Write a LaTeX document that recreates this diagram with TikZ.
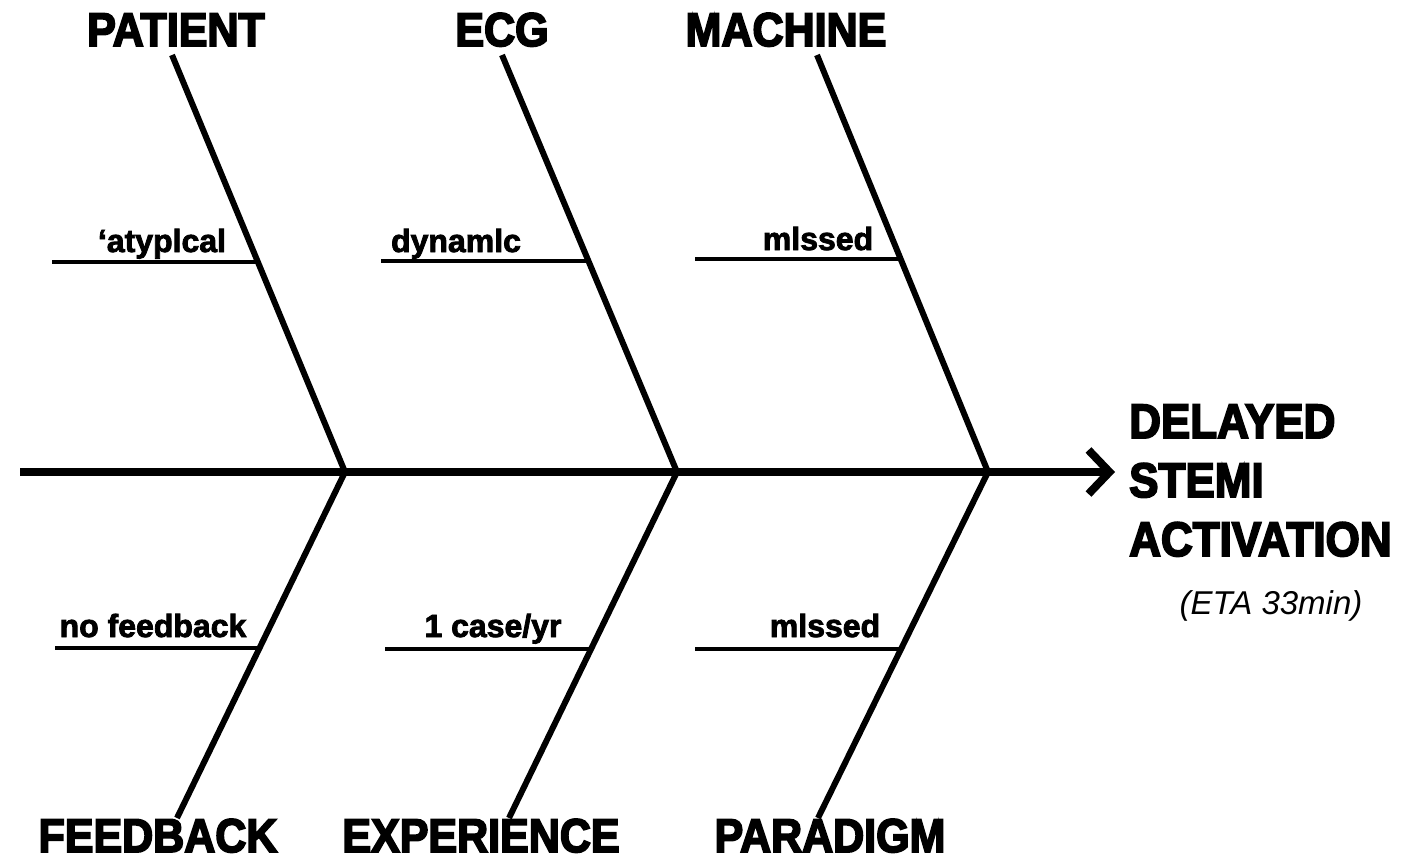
\documentclass[tikz,border=0pt]{standalone}
\usepackage{fontspec}
\setmainfont{Liberation Sans}
\newfontfamily\heavyfont{Liberation Sans}[BoldFeatures={FakeBold=4}]
\newfontfamily\ribfont{Liberation Sans}[BoldFeatures={FakeBold=2.5}]
\usetikzlibrary{arrows.meta}
\newcommand{\tallcap}[1]{\scalebox{1}[1.1]{#1}}
\tikzset{
  spine/.style={line width=8.5pt, -{Straight Barb[length=21pt,width=44pt,line width=8pt]}},
  bone/.style={line width=6pt, line cap=butt},
  rib/.style={line width=3.8pt},
  cat/.style={font=\heavyfont\bfseries\fontsize{43}{46}\selectfont, inner sep=0pt, anchor=base},
  cause/.style={font=\ribfont\bfseries\fontsize{32}{34}\selectfont, inner sep=0pt, anchor=base},
  effect/.style={font=\heavyfont\bfseries\fontsize{44}{59}\selectfont, inner sep=0pt, anchor=base west},
  eta/.style={font=\itshape\fontsize{33}{36}\selectfont, inner sep=0pt, anchor=base}
}
\begin{document}
\begin{tikzpicture}[x=1pt,y=-1pt]
\useasboundingbox (0,0) rectangle (1422,862);
% spine
\coordinate (tail) at (20,472);
\coordinate (head) at (1115,472);
\coordinate (j1) at (345,472);
\coordinate (j2) at (677,472);
\coordinate (j3) at (988,472);
% bone ends
\coordinate (t1) at (172,55);
\coordinate (t2) at (502,55);
\coordinate (t3) at (817,55);
\coordinate (b1) at (177,818);
\coordinate (b2) at (509,818);
\coordinate (b3) at (818,818);
\draw[spine] (tail) -- (head);
\draw[bone] (t1) -- (j1);
\draw[bone] (t2) -- (j2);
\draw[bone] (t3) -- (j3);
\draw[bone] (j1) -- (b1);
\draw[bone] (j2) -- (b2);
\draw[bone] (j3) -- (b3);
% ribs
\coordinate (r1s) at (52,262);  \coordinate (r1e) at (258,262);
\coordinate (r2s) at (381,261); \coordinate (r2e) at (589,261);
\coordinate (r3s) at (695,259); \coordinate (r3e) at (901,259);
\coordinate (r4s) at (55,648);  \coordinate (r4e) at (260,648);
\coordinate (r5s) at (385,649); \coordinate (r5e) at (591,649);
\coordinate (r6s) at (695,649); \coordinate (r6e) at (901,649);
\draw[rib] (r1s) -- (r1e);
\draw[rib] (r2s) -- (r2e);
\draw[rib] (r3s) -- (r3e);
\draw[rib] (r4s) -- (r4e);
\draw[rib] (r5s) -- (r5e);
\draw[rib] (r6s) -- (r6e);
% category labels
\node[cat] (patient) at (176,46) {\tallcap{PATIENT}};
\node[cat] (ecg) at (502,46) {\tallcap{ECG}};
\node[cat] (machine) at (786,46) {\tallcap{MACHINE}};
\node[cat] (feedback) at (158,852) {\tallcap{FEEDBACK}};
\node[cat] (experience) at (481,852) {\tallcap{EXPERIENCE}};
\node[cat] (paradigm) at (830,852) {\tallcap{PARADIGM}};
% cause labels
\node[cause] (c1) at (162,252) {‘atyplcal};
\node[cause] (c2) at (456,252) {dynamlc};
\node[cause] (c3) at (818,250) {mlssed};
\node[cause] (c4) at (153,637) {no feedback};
\node[cause] (c5) at (493,637) {1 case/yr};
\node[cause] (c6) at (825,637) {mlssed};
% effect
\node[effect] (effect1) at (1129,438) {\tallcap{DELAYED}};
\node[effect] (effect2) at (1129,497) {\tallcap{STEMI}};
\node[effect] (effect3) at (1129,556) {\tallcap{ACTIVATION}};
\node[eta] (etanote) at (1271,614) {(ETA 33min)};
\end{tikzpicture}
\end{document}
